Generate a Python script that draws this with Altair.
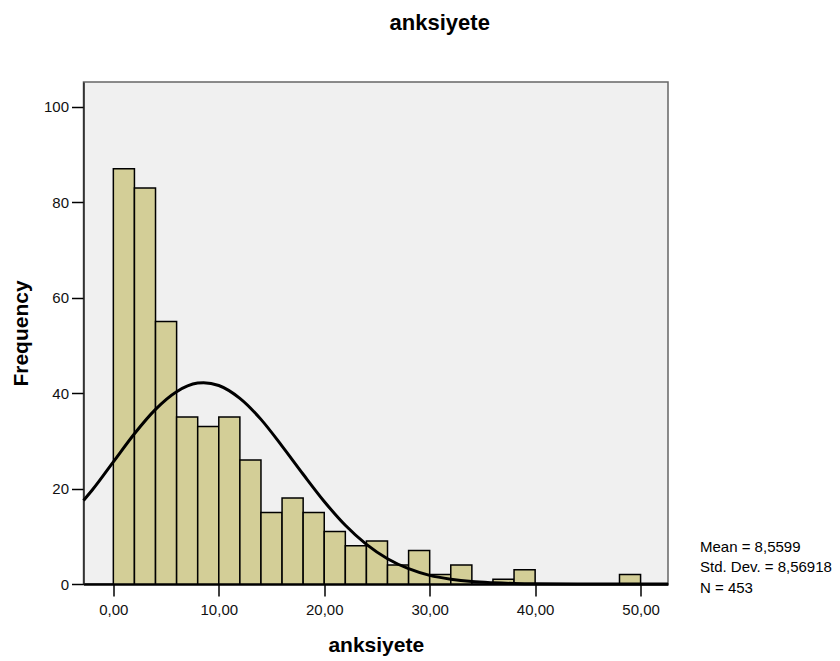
import altair as alt
import pandas as pd

# Histogram bins (width 2) and counts
bin_starts = [0, 2, 4, 6, 8, 10, 12, 14, 16, 18, 20, 22, 24, 26, 28, 30, 32, 36, 38, 48]
counts = [87, 83, 55, 35, 33, 35, 26, 15, 18, 15, 11, 8, 9, 4, 7, 2, 4, 1, 3, 2]
bin_width = 2

# Normal curve points
curve_x = [-2.83, -2, 0, 2, 4, 6, 8, 8.56, 10, 12, 14, 16, 18, 20, 22, 24, 26, 28, 30,
           32, 34, 36, 38, 40, 44, 52.6]
curve_y = [17.5, 19.7, 25.6, 31.5, 36.6, 40.3, 42.1, 42.2, 41.6, 38.9, 34.5, 28.9, 23.0,
           17.3, 12.3, 8.3, 5.3, 3.2, 1.8, 1.0, 0.5, 0.25, 0.1, 0.05, 0.0, 0.0]

x_ticks = [0, 10, 20, 30, 40, 50]
y_ticks = [0, 20, 40, 60, 80, 100]
stats_text = "Mean = 8,5599\nStd. Dev. = 8,56918\nN = 453"
title_text = "anksiyete"
x_title = "anksiyete"
y_title = "Frequency"

bars_df = pd.DataFrame({
    "start": bin_starts,
    "end": [s + bin_width for s in bin_starts],
    "count": counts,
    "base": [0] * len(counts),
})
curve_df = pd.DataFrame({"x": curve_x, "y": curve_y})

W, H = 584.5, 502
FONT = "Liberation Sans"

x_scale = alt.Scale(domain=[-2.83, 52.6], nice=False, zero=False)
y_scale = alt.Scale(domain=[0, 105.2], nice=False)

x_axis = alt.Axis(
    values=x_ticks,
    labelExpr="replace(format(datum.value, '.2f'), '.', ',')",
    title=x_title,
    grid=False,
    tickSize=12, tickWidth=1.5, tickColor="black",
    domainColor="black", domainWidth=2.5,
    labelFont=FONT, labelFontSize=15, labelColor="#111", labelPadding=6,
    titleFont=FONT, titleFontSize=21, titleFontWeight="bold", titleColor="black",
    titleY=61, titleBaseline="middle",
)
y_axis = alt.Axis(
    values=y_ticks,
    title=y_title,
    grid=False,
    tickSize=12, tickWidth=1.5, tickColor="black",
    domainColor="#222", domainWidth=1.5,
    labelFont=FONT, labelFontSize=15, labelColor="#111", labelPadding=3,
    titleFont=FONT, titleFontSize=21, titleFontWeight="bold", titleColor="black",
    titleX=-62, titleBaseline="middle",
)

bars = alt.Chart(bars_df).mark_bar(
    fill="#d3ce97", stroke="black", strokeWidth=1.5
).encode(
    x=alt.X("start:Q", scale=x_scale, axis=x_axis),
    x2="end:Q",
    y=alt.Y("count:Q", scale=y_scale, axis=y_axis),
    y2="base:Q",
)

curve = alt.Chart(curve_df).mark_line(
    color="black", strokeWidth=3, interpolate="monotone"
).encode(
    x=alt.X("x:Q", scale=x_scale),
    y=alt.Y("y:Q", scale=y_scale),
)

stats = alt.Chart(pd.DataFrame({"t": [stats_text]})).mark_text(
    align="left", baseline="middle", lineBreak="\n", lineHeight=20.5,
    font=FONT, fontSize=15, color="black"
).encode(
    text="t:N",
    x=alt.value(616.5),
    y=alt.value(464.7),
)

chart = alt.layer(bars, curve, stats).properties(
    width=W, height=H,
    title=alt.TitleParams(
        title_text, font=FONT, fontSize=22, fontWeight="bold", color="black",
        anchor="middle", dx=64, offset=47,
    ),
    autosize=alt.AutoSizeParams(type="none"),
    padding={"left": 75.5, "top": 74, "right": 164, "bottom": 77},
).configure_view(
    fill="#f0f0f0", stroke="#666", strokeWidth=1.5
)

chart.save("out.html", embed_options={"renderer": "svg", "actions": False})
